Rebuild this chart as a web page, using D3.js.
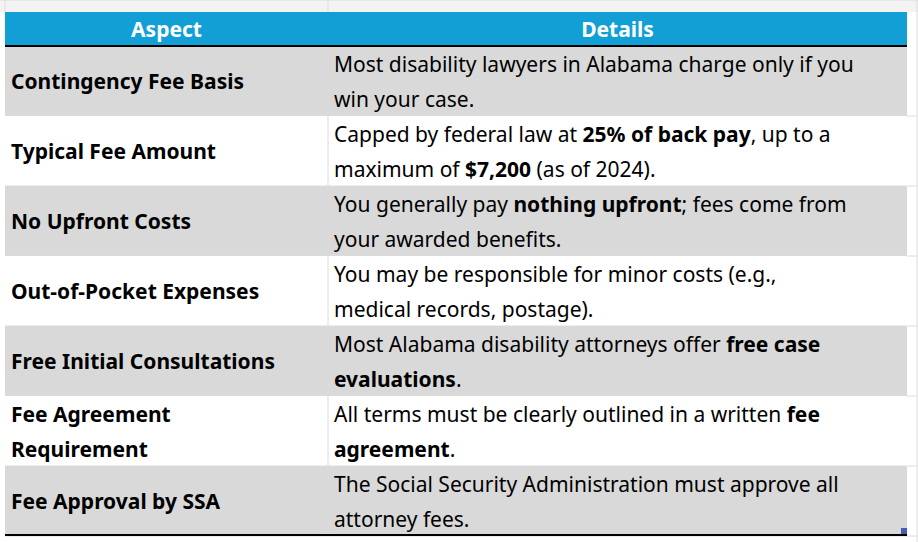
<!DOCTYPE html>
<html><head><meta charset="utf-8">
<script src="https://cdn.jsdelivr.net/npm/d3@7"></script>
<style>body{margin:0;background:#fff}text{font-family:"Noto Sans",sans-serif}</style>
</head><body><svg id="chart" width="918" height="542"></svg>
<script>
// table content
const headers = ["Aspect", "Details"];
const aspects = [
    ["Contingency Fee Basis"],
    ["Typical Fee Amount"],
    ["No Upfront Costs"],
    ["Out-of-Pocket Expenses"],
    ["Free Initial Consultations"],
    ["Fee Agreement", "Requirement"],
    ["Fee Approval by SSA"]
];
// ** marks bold runs
const details = [
    ["Most disability lawyers in Alabama charge only if you", "win your case."],
    ["Capped by federal law at **25% of back pay**, up to a", "maximum of **$7,200** (as of 2024)."],
    ["You generally pay **nothing upfront**; fees come from", "your awarded benefits."],
    ["You may be responsible for minor costs (e.g.,", "medical records, postage)."],
    ["Most Alabama disability attorneys offer **free case**", "**evaluations**."],
    ["All terms must be clearly outlined in a written **fee**", "**agreement**."],
    ["The Social Security Administration must approve all", "attorney fees."]
];

const svg = d3.select("#chart");
const left = 5, mid = 328, right = 907;
const headTop = 12, headBot = 46, rowH = 70;
const y = d3.scaleBand().domain(d3.range(aspects.length))
    .range([headBot, headBot + rowH * aspects.length]);

// faint spreadsheet grid above table
svg.append("rect").attr("x", 0).attr("y", 0).attr("width", 918).attr("height", headTop).attr("fill", "#f3f3f3");
[[0, 0, 918, 0], [mid, 0, mid, headTop], [left, 0, left, headTop], [right + 10, 0, right + 10, 542]]
    .forEach(l => svg.append("line").attr("x1", l[0]).attr("y1", l[1]).attr("x2", l[2]).attr("y2", l[3]).attr("stroke", "#dcdcdc"));

// header
svg.append("rect").attr("x", left).attr("y", headTop).attr("width", right - left).attr("height", headBot - headTop).attr("fill", "#119fd6");
svg.selectAll(".hd").data(headers).enter().append("text")
    .attr("x", (d, i) => i == 0 ? (left + mid) / 2 : (mid + right) / 2)
    .attr("y", 37).attr("text-anchor", "middle").attr("fill", "#fff")
    .attr("font-weight", "bold").attr("font-size", 21).text(d => d);

// rows
const rows = svg.selectAll(".row").data(aspects).enter().append("g")
    .attr("transform", (d, i) => `translate(0,${y(i)})`);
rows.append("rect").attr("x", left).attr("width", right - left).attr("height", rowH)
    .attr("fill", (d, i) => i % 2 == 0 ? "#d9d9d9" : "#fff");
rows.append("line").attr("x1", mid).attr("x2", mid).attr("y1", 0).attr("y2", rowH).attr("stroke", "#dcdcdc");
rows.append("line").attr("x1", left).attr("x2", right + 10).attr("y1", rowH).attr("y2", rowH).attr("stroke", "#dcdcdc");

// aspect text
rows.each(function (d, i) {
    const g = d3.select(this);
    const start = d.length == 1 ? 43 : 26;
    d.forEach((line, k) => {
        g.append("text").attr("x", 11).attr("y", start + k * 35)
            .attr("font-size", 21).attr("font-weight", "bold").attr("fill", "#000").text(line);
    });
    details[i].forEach((line, k) => {
        const t = g.append("text").attr("x", 334).attr("y", 26 + k * 35)
            .attr("font-size", 21).attr("fill", "#000");
        line.split("**").forEach((part, j) => {
            if (part) t.append("tspan").attr("font-weight", j % 2 ? "bold" : "normal").text(part);
        });
    });
});

// black rules
svg.append("line").attr("x1", left).attr("x2", right).attr("y1", headBot).attr("y2", headBot).attr("stroke", "#000").attr("stroke-width", 2);
const bot = headBot + rowH * aspects.length;
svg.append("line").attr("x1", left).attr("x2", right).attr("y1", bot - 1).attr("y2", bot - 1).attr("stroke", "#000").attr("stroke-width", 2);
svg.append("rect").attr("x", right - 6).attr("y", bot - 8).attr("width", 6).attr("height", 6).attr("fill", "#4a5bb0");
</script></body></html>
